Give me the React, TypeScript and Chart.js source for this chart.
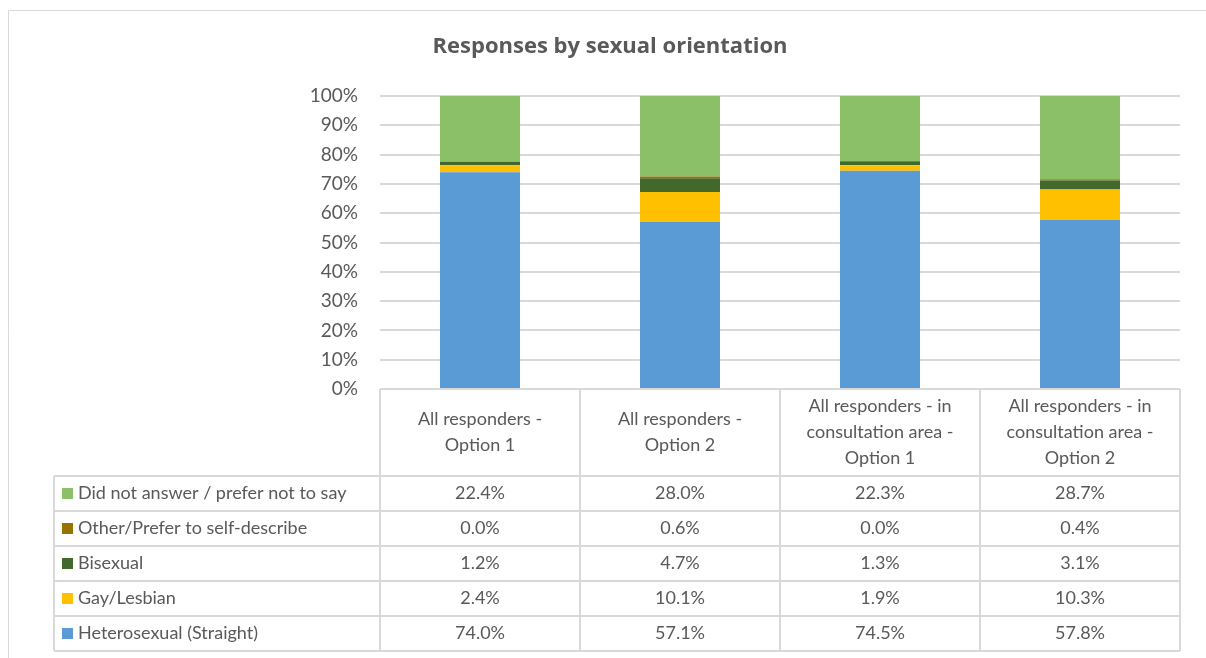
import React, { useEffect, useRef } from 'react';
import { Chart, registerables } from 'chart.js';

Chart.register(...registerables);

const TITLE = 'Responses by sexual orientation';
const categories: string[][] = [
  ['All responders -', 'Option 1'],
  ['All responders -', 'Option 2'],
  ['All responders - in', 'consultation area -', 'Option 1'],
  ['All responders - in', 'consultation area -', 'Option 2'],
];
const seriesNames = [
  'Heterosexual (Straight)',
  'Gay/Lesbian',
  'Bisexual',
  'Other/Prefer to self-describe',
  'Did not answer / prefer not to say',
];
const heterosexual = [74.0, 57.1, 74.5, 57.8];
const gayLesbian = [2.4, 10.1, 1.9, 10.3];
const bisexual = [1.2, 4.7, 1.3, 3.1];
const other = [0.0, 0.6, 0.0, 0.4];
const didNotAnswer = [22.4, 28.0, 22.3, 28.7];
const seriesColors = ['#5B9BD5', '#FFC000', '#43682B', '#997300', '#8CC068'];
const yTickValues = [0, 10, 20, 30, 40, 50, 60, 70, 80, 90, 100];

const FONT = 'Lato, "Open Sans", sans-serif';
const TITLE_FONT = '"Open Sans", Lato, sans-serif';
const TEXT = '#595959';
const LINE = '#D9D9D9';

const tablePlugin = {
  id: 'dataTable',
  afterDraw(chart: any) {
    const ctx = chart.ctx as CanvasRenderingContext2D;
    const area = chart.chartArea;
    const n = categories.length;
    const colW = (area.right - area.left) / n;
    const headerTop = area.bottom;
    const headerBottom = headerTop + 87;
    const rowH = 35;
    const legendLeft = 54;
    const rows = chart.data.datasets.length;
    const tableBottom = headerBottom + rows * rowH;

    ctx.save();
    // outer chart border
    ctx.strokeStyle = LINE;
    ctx.lineWidth = 1;
    ctx.beginPath();
    ctx.moveTo(8.5, 658);
    ctx.lineTo(8.5, 10.5);
    ctx.lineTo(1206, 10.5);
    ctx.stroke();

    // title
    ctx.fillStyle = TEXT;
    ctx.font = `bold 22px ${TITLE_FONT}`;
    ctx.textAlign = 'center';
    ctx.textBaseline = 'middle';
    ctx.fillText(TITLE, 610, 47);

    // table grid
    ctx.strokeStyle = LINE;
    ctx.lineWidth = 2;
    ctx.beginPath();
    ctx.moveTo(area.left, headerTop);
    ctx.lineTo(area.right, headerTop);
    for (let r = 0; r <= rows; r++) {
      const y = headerBottom + r * rowH;
      ctx.moveTo(legendLeft, y);
      ctx.lineTo(area.right, y);
    }
    for (let c = 0; c <= n; c++) {
      const x = area.left + c * colW;
      ctx.moveTo(x, headerTop);
      ctx.lineTo(x, tableBottom);
    }
    ctx.moveTo(legendLeft, headerBottom);
    ctx.lineTo(legendLeft, tableBottom);
    ctx.stroke();

    // header labels
    ctx.fillStyle = TEXT;
    ctx.font = `18px ${FONT}`;
    ctx.textAlign = 'center';
    ctx.textBaseline = 'middle';
    const lineH = 26;
    categories.forEach((lines, i) => {
      const cx = chart.scales.x.getPixelForValue(i);
      const cy = (headerTop + headerBottom) / 2;
      const start = cy - ((lines.length - 1) * lineH) / 2;
      lines.forEach((t, k) => ctx.fillText(t, cx, start + k * lineH));
    });

    // rows: reverse dataset order
    for (let r = 0; r < rows; r++) {
      const di = rows - 1 - r;
      const ds = chart.data.datasets[di];
      const cy = headerBottom + r * rowH + rowH / 2;
      ctx.fillStyle = ds.backgroundColor;
      ctx.fillRect(62, cy - 5.5, 11, 11);
      ctx.fillStyle = TEXT;
      ctx.textAlign = 'left';
      ctx.fillText(ds.label, 78, cy);
      ctx.textAlign = 'center';
      (ds.data as number[]).forEach((v, i) => {
        const cx = chart.scales.x.getPixelForValue(i);
        ctx.fillText(v.toFixed(1) + '%', cx, cy);
      });
    }
    ctx.restore();
  },
};

export default function App() {
  const ref = useRef<HTMLCanvasElement>(null);
  useEffect(() => {
    if (!ref.current) return;
    const values = [heterosexual, gayLesbian, bisexual, other, didNotAnswer];
    const chart = new Chart(ref.current, {
      type: 'bar',
      data: {
        labels: categories.map((c) => c.join(' ')),
        datasets: seriesNames.map((name, i) => ({
          label: name,
          data: values[i],
          backgroundColor: seriesColors[i],
          borderWidth: 0,
          barPercentage: 0.4,
          categoryPercentage: 1,
        })),
      },
      options: {
        animation: false,
        responsive: false,
        maintainAspectRatio: false,
        layout: { padding: { left: 300, right: 26, top: 96, bottom: 269 } },
        plugins: {
          legend: { display: false },
          title: { display: false },
          tooltip: { enabled: false },
        },
        scales: {
          x: {
            stacked: true,
            display: false,
            grid: { display: false },
          },
          y: {
            stacked: true,
            min: 0,
            max: 100,
            afterFit: (s: any) => {
              s.width = 80;
            },
            afterBuildTicks: (s: any) => {
              s.ticks = yTickValues.map((v) => ({ value: v }));
            },
            ticks: {
              color: TEXT,
              font: { family: FONT, size: 19 },
              padding: 22,
              callback: (v: any) => v + '%',
            },
            grid: { color: LINE, lineWidth: 2, drawTicks: false },
            border: { display: false },
          },
        },
      },
      plugins: [tablePlugin],
    });
    return () => chart.destroy();
  }, []);
  return (
    <div style={{ position: 'fixed', left: 0, top: 0, width: 1206, height: 658, background: '#fff' }}>
      <canvas ref={ref} width={1206} height={658} style={{ width: 1206, height: 658 }} />
    </div>
  );
}
